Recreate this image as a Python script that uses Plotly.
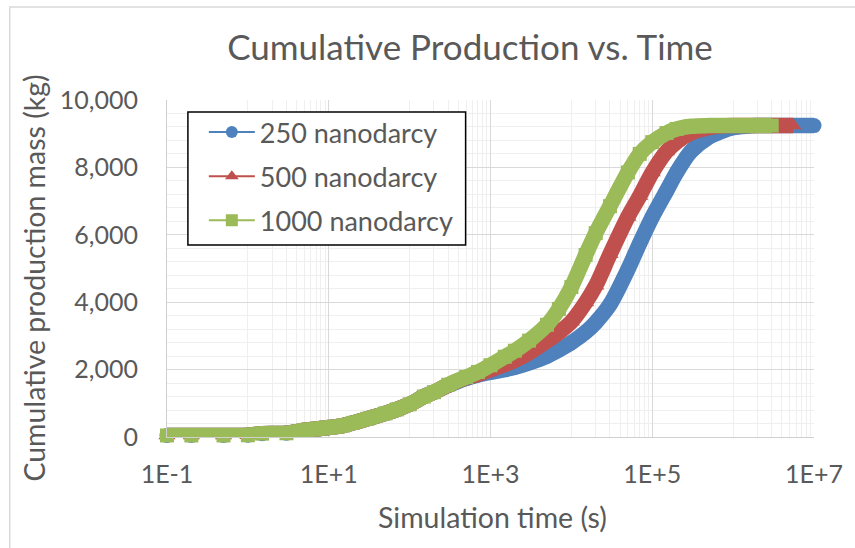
import plotly.graph_objects as go

# Simulation output: cumulative produced mass (kg) versus simulation time (s)
time_250 = [0.1, 0.2, 0.5, 1, 1.5, 3, 5, 10, 15, 20, 30, 50, 70, 100, 150, 200, 300, 500, 700,
            1e3, 1.5e3, 2e3, 3e3, 5e3, 7e3, 1e4, 1.5e4, 2e4, 3e4, 5e4, 7e4, 1e5, 1.5e5, 2e5,
            3e5, 5e5, 7e5, 1e6, 1.5e6, 2e6, 5e6, 1e7]
mass_250 = [45, 45, 45, 50, 100, 110, 200, 280, 340, 420, 540, 700, 820, 970, 1200, 1330, 1530,
            1740, 1840, 1920, 2000, 2070, 2200, 2400, 2580, 2800, 3110, 3400, 3930, 4970, 5750,
            6530, 7300, 7850, 8470, 8900, 9060, 9180, 9225, 9240, 9240, 9240]

time_500 = [0.1, 0.2, 0.5, 1, 1.5, 3, 5, 10, 15, 20, 30, 50, 70, 100, 150, 200, 300, 500, 700,
            1e3, 1.5e3, 2e3, 3e3, 5e3, 7e3, 1e4, 1.5e4, 2e4, 3e4, 5e4, 7e4, 1e5, 1.5e5, 2e5,
            3e5, 5e5, 7e5, 1e6, 2e6, 5.5e6]
mass_500 = [45, 45, 45, 50, 100, 110, 200, 280, 340, 420, 540, 700, 820, 970, 1200, 1330, 1540,
            1760, 1860, 2000, 2150, 2280, 2500, 2850, 3100, 3420, 3990, 4490, 5420, 6530, 7150,
            7850, 8470, 8750, 9020, 9180, 9225, 9240, 9240, 9240]

time_1000 = [0.1, 0.2, 0.5, 1, 1.5, 3, 5, 10, 15, 20, 30, 50, 70, 100, 150, 200, 300, 500, 700,
             1e3, 1.5e3, 2e3, 3e3, 5e3, 7e3, 1e4, 1.5e4, 2e4, 3e4, 5e4, 7e4, 1e5, 1.5e5, 2e5,
             3e5, 5e5, 1e6, 2e6, 3e6]
mass_1000 = [45, 45, 45, 50, 100, 110, 200, 280, 340, 420, 540, 700, 820, 970, 1200, 1330, 1550,
             1780, 1930, 2130, 2380, 2560, 2860, 3330, 3800, 4450, 5400, 6050, 6850, 7850, 8400,
             8750, 9020, 9140, 9220, 9240, 9240, 9240, 9240]

series_names = ["250 nanodarcy", "500 nanodarcy", "1000 nanodarcy"]
series_colors = ["#4F81BD", "#C0504D", "#9BBB59"]
series_symbols = ["circle", "triangle-up", "square"]
series_sizes = [15, 15, 14]

x_tick_vals = [1e-1, 1e1, 1e3, 1e5, 1e7]
x_tick_text = ["1E-1", "1E+1", "1E+3", "1E+5", "1E+7"]

FONT = "Lato"
TEXT = "#595959"

# plot-area placement in pixels
L, R, T, B = 167, 817, 100, 437
W, H = R - L, B - T


def px_x(x):
    return (x - L) / W


def px_y(y):
    return (B - y) / H


fig = go.Figure()

# dense marker bands (drawn blue, red, then green on top)
series = [(time_250, mass_250), (time_500, mass_500), (time_1000, mass_1000)]
for (t, m), color, sym, size in zip(series, series_colors, series_symbols, series_sizes):
    fig.add_trace(go.Scatter(
        x=t, y=m, mode="lines+markers",
        line=dict(color=color, width=15.5, shape="spline", smoothing=0.8),
        marker=dict(symbol=sym, size=size, color=color, line=dict(width=0)),
        showlegend=False, cliponaxis=False, hoverinfo="skip",
    ))

# legend entries
for name, color, sym in zip(series_names, series_colors, series_symbols):
    fig.add_trace(go.Scatter(
        x=[None], y=[None], mode="lines+markers", name=name, legendgroup=name,
        line=dict(color=color, width=2),
        marker=dict(symbol=sym, size=12, color=color),
    ))

# minor vertical grid: 1..9 x 10^k for k = 0, 2, 4, 6
x_minor = [j * 10.0 ** k for k in (0, 2, 4, 6) for j in range(1, 10)]

fig.update_layout(
    width=855, height=548,
    margin=dict(l=L, r=855 - R, t=T, b=548 - B),
    paper_bgcolor="white", plot_bgcolor="white",
    font=dict(family=FONT, color=TEXT, size=25),
    title=dict(text="Cumulative Production vs. Time", x=470 / 855, xanchor="center",
               y=1 - 48 / 548, yanchor="middle", yref="container",
               font=dict(family=FONT, size=35, color=TEXT)),
    legend=dict(x=px_x(204), y=px_y(108), xanchor="left", yanchor="top",
                bgcolor="rgba(0,0,0,0)", borderwidth=0,
                font=dict(family=FONT, size=27, color=TEXT),
                traceorder="grouped", tracegroupgap=6, itemwidth=46),
    showlegend=True,
)

fig.update_xaxes(
    type="log", range=[-1, 7],
    tickmode="array", tickvals=x_tick_vals, ticktext=x_tick_text,
    showgrid=True, gridcolor="#d9d9d9", gridwidth=1,
    minor=dict(tickmode="array", tickvals=x_minor, showgrid=True, gridcolor="#efefef",
               gridwidth=1, ticks=""),
    showline=True, linecolor="#d0d0d0", linewidth=1, mirror=False,
    ticks="", ticklabelstandoff=15,
    tickfont=dict(family=FONT, size=25, color=TEXT),
    zeroline=False,
)
fig.update_yaxes(
    range=[0, 10000], tick0=0, dtick=2000, tickformat=",",
    showgrid=True, gridcolor="#d9d9d9", gridwidth=1,
    minor=dict(dtick=400, showgrid=True, gridcolor="#efefef", gridwidth=1, ticks=""),
    showline=True, linecolor="#d0d0d0", linewidth=1,
    ticks="", ticklabelstandoff=23,
    tickfont=dict(family=FONT, size=25, color=TEXT),
    zeroline=False,
)

# axis titles
fig.add_annotation(text="Simulation time (s)", xref="paper", yref="paper",
                   x=px_x(494), y=px_y(517), showarrow=False,
                   xanchor="center", yanchor="middle",
                   font=dict(family=FONT, size=28.5, color=TEXT))
fig.add_annotation(text="Cumulative production mass (kg)", xref="paper", yref="paper",
                   x=px_x(33), y=px_y(278), showarrow=False, textangle=-90,
                   xanchor="center", yanchor="middle",
                   font=dict(family=FONT, size=28.5, color=TEXT))

# legend frame (white box over the grid)
fig.add_shape(type="rect", xref="paper", yref="paper",
              x0=px_x(188), x1=px_x(467), y0=px_y(245), y1=px_y(112),
              line=dict(color="black", width=1.5), fillcolor="white", layer="above")

# chart frame
fig.add_shape(type="rect", xref="paper", yref="paper",
              x0=px_x(9), x1=px_x(870), y0=px_y(560), y1=px_y(7),
              line=dict(color="#d9d9d9", width=1.5), layer="below")

fig.write_html("out.html")
